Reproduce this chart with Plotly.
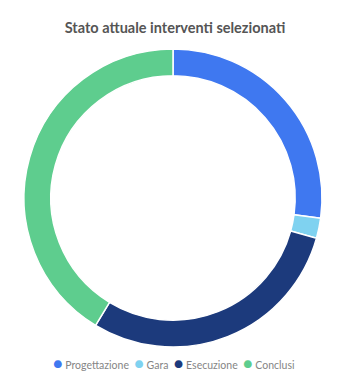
import plotly.graph_objects as go

categories = ["Progettazione", "Gara", "Esecuzione", "Conclusi"]
values = [25, 2, 27, 38]
colors = ["#3f78f0", "#7fd2f0", "#1c3a7c", "#5ecd8e"]

W, H = 350, 387
fig = go.Figure()
fig.add_trace(go.Pie(
    labels=categories, values=values, sort=False, direction="clockwise", rotation=0,
    hole=0.82, marker=dict(colors=colors, line=dict(color="white", width=1.5)),
    textinfo="none", hoverinfo="label+value+percent", showlegend=False,
    domain=dict(x=[24 / W, 322 / W], y=[1 - 347 / H, 1 - 49 / H]),
))

items = []
for c, col in zip(categories, colors):
    items.append(f"<span style='color:{col};font-size:16px'>●</span> {c}")
legend_text = "&nbsp;&nbsp;".join(items)

fig.update_layout(
    width=W, height=H, margin=dict(l=0, r=0, t=0, b=0),
    paper_bgcolor="white", plot_bgcolor="white",
    title=dict(text="<b>Stato attuale interventi selezionati</b>", x=0.5, xanchor="center",
               y=1 - 28 / H, yanchor="middle",
               font=dict(family="Lato, sans-serif", size=14.5, color="#555555")),
    annotations=[dict(text=legend_text, x=0.496, xref="paper", xanchor="center",
                      y=1 - 362 / H, yref="paper", yanchor="middle", showarrow=False,
                      font=dict(family="Lato, sans-serif", size=10.5, color="#858585"))],
)
fig.write_html("out.html")
